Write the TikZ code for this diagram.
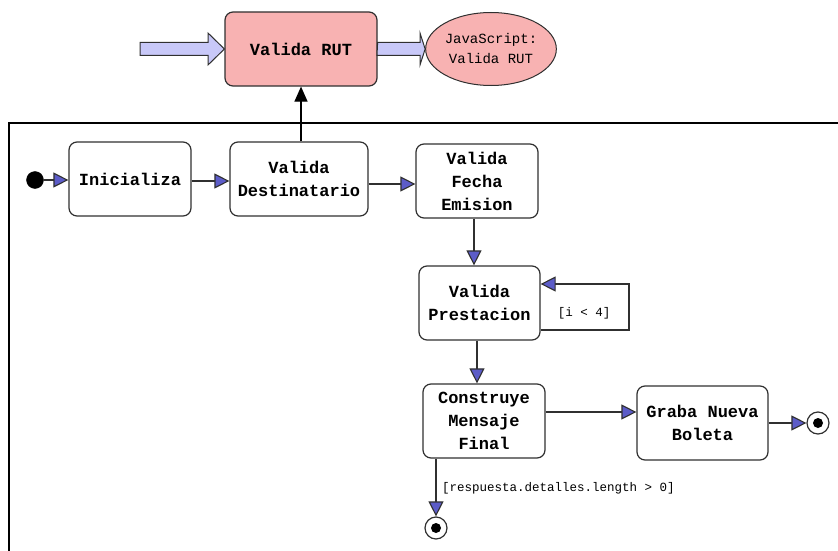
\documentclass[tikz,border=0pt]{standalone}
\usepackage{fontspec}
\setmonofont{Liberation Mono}
\usetikzlibrary{arrows.meta,shapes.geometric}

\definecolor{edge}{HTML}{303030}
\definecolor{tipblue}{HTML}{5C5CC8}
\definecolor{rutpink}{HTML}{F8B2B2}
\definecolor{flowlav}{HTML}{C8C8F8}

\tikzset{
  activity/.style={draw=edge, line width=1.2pt, fill=white, rounded corners=8pt,
    minimum height=74pt, align=center, inner sep=2pt,
    font=\ttfamily\bfseries\fontsize{17}{23}\selectfont},
  flow/.style={draw=edge, line width=1.1pt,
    -{Triangle[length=15pt,width=15pt,fill=tipblue]}},
  guard/.style={font=\ttfamily\fontsize{12.5}{15}\selectfont, inner sep=0pt},
  bigflow/.style={draw=edge, line width=1pt, fill=flowlav, line join=miter},
  startdot/.style={circle, fill=black, draw=black, minimum size=17pt, inner sep=0pt},
  enddot/.style={circle, draw=edge, line width=1.2pt, fill=white, minimum size=22pt, inner sep=0pt,
    path picture={\fill[black] (path picture bounding box.center) circle (5pt);}},
}

\begin{document}
\begin{tikzpicture}[x=1pt, y=-1pt]
\useasboundingbox (0,0) rectangle (838,551);

% enclosing frame (open to the right and below)
\draw[black, line width=2pt] (9,551) -- (9,123) -- (838,123);

% RUT check called from outside the frame
\node[activity, fill=rutpink, minimum width=152pt] (rut) at (301,49) {Valida RUT};
\node[ellipse, draw=edge, line width=1pt, fill=rutpink, minimum width=108pt, minimum height=73pt,
      inner sep=0pt, align=center, font=\ttfamily\fontsize{14}{20}\selectfont]
      (js) at (491,49) {JavaScript:\\ Valida RUT};

% broad incoming / outgoing flows of the RUT check
\coordinate (rutin) at (140,49);
\draw[bigflow] (rutin) ++(0,-6.5) -- ++(68,0) -- ++(0,-9.5) -- (rut.west) -- (208,65) -- ++(0,-9.5)
  -- ++(-68,0) -- cycle;
\draw[bigflow] (rut.east) ++(0,-6.5) -- (420,42.5) -- ++(0,-9.5) -- (js.west) -- (420,65) -- ++(0,-9.5)
  -- (377,55.5) -- cycle;

% activities
\node[startdot] (start) at (35,180) {};
\node[activity, minimum width=122pt] (ini) at (130,179) {Inicializa};
\node[activity, minimum width=138pt] (dest) at (299,179) {Valida\\Destinatario};
\node[activity, minimum width=122pt] (fecha) at (477,181) {Valida\\Fecha\\Emision};
\node[activity, minimum width=121pt] (prest) at (479.5,303) {Valida\\Prestacion};
\node[activity, minimum width=122pt] (cons) at (484,421) {Construye\\Mensaje\\Final};
\node[activity, minimum width=131pt] (graba) at (702.5,423) {Graba Nueva\\Boleta};
\node[enddot] (endr) at (818,423) {};
\node[enddot] (endb) at (436,528) {};

% control flow
\draw[flow] (start.east) -- (start.east -| ini.west);
\draw[flow] (ini.east |- 0,181) -- (dest.west |- 0,181);
\draw[flow] (dest.east |- 0,184) -- (fecha.west |- 0,184);
\draw[flow] (fecha.south -| 474,0) -- (prest.north -| 474,0);
\draw[flow] (prest.east |- 0,330) -- (629,330) -- (629,284) -- (prest.east |- 0,284);
\node[guard] (loopguard) at (584,313) {[i < 4]};
\draw[flow] (prest.south -| 477,0) -- (cons.north -| 477,0);
\draw[flow] (cons.east |- 0,412) -- (graba.west |- 0,412);
\draw[flow] (graba.east |- endr.west) -- (endr.west);
\draw[flow] (cons.south -| endb.north) -- (endb.north);
\node[guard, anchor=west] (lenguard) at (442,488) {[respuesta.detalles.length > 0]};

% call into the RUT check
\draw[black, line width=1.2pt, -{Triangle[length=15pt,width=13pt]}] (dest.north -| rut.south) -- (rut.south);
\end{tikzpicture}
\end{document}
